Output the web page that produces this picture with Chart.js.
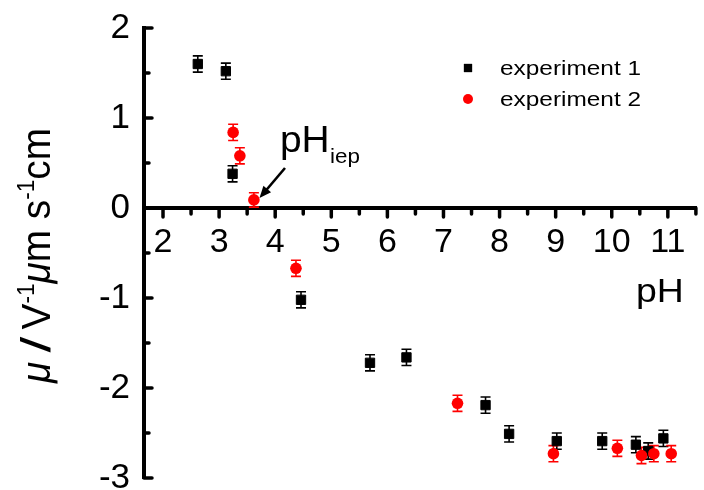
<!DOCTYPE html>
<html>
<head>
<meta charset="utf-8">
<script src="https://cdn.jsdelivr.net/npm/chart.js@4.4.1/dist/chart.umd.min.js"></script>
<style>
  html, body { margin: 0; padding: 0; background: #fff; }
  #wrap { width: 704px; height: 490px; }
</style>
</head>
<body>
<div id="wrap"><canvas id="mobility" width="704" height="490"></canvas></div>
<script>
// electrophoretic mobility vs pH, two runs
const exp1Label = "experiment 1";
const exp1X = [2.62, 3.12, 3.24, 4.46, 5.69, 6.34, 7.75, 8.17, 9.02, 9.83, 10.43, 10.65, 10.92];
const exp1Y = [1.60, 1.52, 0.38, -1.02, -1.72, -1.66, -2.19, -2.51, -2.59, -2.59, -2.63, -2.70, -2.56];
const exp1Err = [0.09, 0.09, 0.09, 0.09, 0.09, 0.09, 0.09, 0.09, 0.09, 0.09, 0.09, 0.09, 0.09];

const exp2Label = "experiment 2";
const exp2X = [3.25, 3.37, 3.62, 4.37, 7.25, 8.96, 10.10, 10.53, 10.75, 11.06];
const exp2Y = [0.84, 0.58, 0.09, -0.67, -2.17, -2.73, -2.67, -2.75, -2.73, -2.73];
const exp2Err = [0.09, 0.09, 0.08, 0.09, 0.09, 0.09, 0.09, 0.09, 0.09, 0.09];

const xTickValues = [2, 2.5, 3, 3.5, 4, 4.5, 5, 5.5, 6, 6.5, 7, 7.5, 8, 8.5, 9, 9.5, 10, 10.5, 11, 11.5];
const yTickValues = [-3, -2.5, -2, -1.5, -1, -0.5, 0, 0.5, 1, 1.5, 2];

const FONT = '"Liberation Sans", Arial, Helvetica, sans-serif';
const RED = "#ff0000";

const toPoints = (xs, ys) => xs.map((x, i) => ({ x: x, y: ys[i] }));

// draw a row of text pieces (sub/superscripts, mixed styles) from the current origin
function runsWidth(ctx, runs) {
  let w = 0;
  runs.forEach((r) => {
    ctx.font = r.font;
    w += ctx.measureText(r.text).width;
  });
  return w;
}
function drawRuns(ctx, runs) {
  let x = 0;
  runs.forEach((r) => {
    ctx.font = r.font;
    ctx.fillText(r.text, x, r.dy || 0);
    x += ctx.measureText(r.text).width;
  });
}

// error bars + small/large tick marks, drawn under the markers
const underlay = {
  id: "underlay",
  beforeDatasetsDraw(chart) {
    const { ctx, scales } = chart;
    const xs = scales.x;
    const ys = scales.y;
    const y0 = ys.getPixelForValue(0);
    const x0 = chart.chartArea.left;

    ctx.save();
    ctx.strokeStyle = "#000";
    ctx.lineCap = "round";
    ctx.lineWidth = 3.5;
    xs.ticks.forEach((t) => {
      const px = xs.getPixelForValue(t.value);
      const len = Number.isInteger(t.value) ? 9 : 6;
      ctx.beginPath();
      ctx.moveTo(px, y0);
      ctx.lineTo(px, y0 + len);
      ctx.stroke();
    });
    ys.ticks.forEach((t) => {
      const py = ys.getPixelForValue(t.value);
      const len = Number.isInteger(t.value) ? 8 : 5;
      ctx.beginPath();
      ctx.moveTo(x0, py);
      ctx.lineTo(x0 + len, py);
      ctx.stroke();
    });
    ctx.restore();

    const errs = [exp1Err, exp2Err];
    chart.data.datasets.forEach((ds, i) => {
      ctx.save();
      ctx.strokeStyle = ds.borderColor;
      ctx.lineWidth = 1.6;
      ds.data.forEach((p, j) => {
        const px = xs.getPixelForValue(p.x);
        const top = ys.getPixelForValue(p.y + errs[i][j]);
        const bot = ys.getPixelForValue(p.y - errs[i][j]);
        ctx.beginPath();
        ctx.moveTo(px, top);
        ctx.lineTo(px, bot);
        ctx.moveTo(px - 5, top);
        ctx.lineTo(px + 5, top);
        ctx.moveTo(px - 5, bot);
        ctx.lineTo(px + 5, bot);
        ctx.stroke();
      });
      ctx.restore();
    });
  },
};

const annotations = {
  id: "annotations",
  afterDraw(chart) {
    const { ctx, scales } = chart;
    ctx.save();
    ctx.fillStyle = "#000";
    ctx.strokeStyle = "#000";
    ctx.textBaseline = "alphabetic";
    ctx.textAlign = "left";

    // y axis title, rotated
    const titleRuns = [
      { text: "\u03bc", font: "italic 36px " + FONT },
      { text: " ", font: "36px " + FONT },
      { text: "/", font: "italic bold 36px " + FONT },
      { text: " V", font: "36px " + FONT },
      { text: "-1", font: "21px " + FONT, dy: -14 },
      { text: "\u03bc", font: "italic 36px " + FONT },
      { text: "m s", font: "36px " + FONT },
      { text: "-1", font: "21px " + FONT, dy: -14 },
      { text: "cm", font: "36px " + FONT },
    ];
    const tw = runsWidth(ctx, titleRuns);
    ctx.save();
    ctx.translate(50, 383);
    ctx.rotate(-Math.PI / 2);
    ctx.scale(255 / tw, 1.12);
    drawRuns(ctx, titleRuns);
    ctx.restore();

    // x axis title
    ctx.save();
    ctx.translate(636, 302);
    ctx.scale(1.1, 1);
    drawRuns(ctx, [{ text: "pH", font: "34px " + FONT }]);
    ctx.restore();

    // isoelectric point label and arrow
    ctx.save();
    ctx.translate(280, 152);
    ctx.scale(1.08, 1);
    drawRuns(ctx, [{ text: "pH", font: "36px " + FONT }]);
    ctx.restore();
    ctx.save();
    ctx.translate(330, 163);
    ctx.scale(1.12, 1);
    drawRuns(ctx, [{ text: "iep", font: "20px " + FONT }]);
    ctx.restore();

    const tipX = scales.x.getPixelForValue(3.72);
    const tipY = scales.y.getPixelForValue(0.11);
    const fromX = 285, fromY = 168;
    const ang = Math.atan2(tipY - fromY, tipX - fromX);
    const head = 12;
    ctx.lineWidth = 2.6;
    ctx.beginPath();
    ctx.moveTo(fromX, fromY);
    ctx.lineTo(tipX - Math.cos(ang) * head * 0.8, tipY - Math.sin(ang) * head * 0.8);
    ctx.stroke();
    ctx.beginPath();
    ctx.moveTo(tipX, tipY);
    ctx.lineTo(tipX - head * Math.cos(ang) + 5 * Math.sin(ang), tipY - head * Math.sin(ang) - 5 * Math.cos(ang));
    ctx.lineTo(tipX - head * Math.cos(ang) - 5 * Math.sin(ang), tipY - head * Math.sin(ang) + 5 * Math.cos(ang));
    ctx.closePath();
    ctx.fill();

    // legend
    chart.data.datasets.forEach((ds, i) => {
      const my = 68 + i * 31;
      ctx.fillStyle = ds.backgroundColor;
      ctx.strokeStyle = ds.borderColor;
      Chart.helpers.drawPoint(ctx, {
        pointStyle: ds.pointStyle,
        radius: ds.pointStyle === "rect" ? 5.9 : 5,
        rotation: 0,
        borderWidth: 0,
      }, 468, my);
      ctx.fillStyle = "#000";
      ctx.save();
      ctx.translate(500, my + 7);
      ctx.scale(1.22, 1);
      drawRuns(ctx, [{ text: ds.label, font: "20px " + FONT }]);
      ctx.restore();
    });
    ctx.restore();
  },
};

new Chart(document.getElementById("mobility"), {
  type: "scatter",
  data: {
    datasets: [
      {
        label: exp1Label,
        data: toPoints(exp1X, exp1Y),
        pointStyle: "rect",
        pointRadius: 6.6,
        borderWidth: 1,
        backgroundColor: "#000",
        borderColor: "#000",
        order: 2,
      },
      {
        label: exp2Label,
        data: toPoints(exp2X, exp2Y),
        pointStyle: "circle",
        pointRadius: 5.8,
        borderWidth: 0,
        backgroundColor: RED,
        borderColor: RED,
        order: 1,
      },
    ],
  },
  options: {
    responsive: false,
    animation: false,
    events: [],
    layout: { padding: { left: 0, top: 28, right: 0, bottom: 12 } },
    plugins: { legend: { display: false }, tooltip: { enabled: false } },
    scales: {
      x: {
        type: "linear",
        min: 1.661,
        max: 11.509,
        position: { y: 0 },
        grid: { display: false, drawTicks: false },
        border: { display: true, width: 4, color: "#000" },
        afterBuildTicks: (scale) => {
          scale.ticks = xTickValues.map((v) => ({ value: v }));
        },
        afterFit: (scale) => {
          scale.paddingLeft = 0;
          scale.paddingRight = 0;
        },
        ticks: {
          autoSkip: false,
          maxRotation: 0,
          padding: 14,
          color: "#000",
          font: { family: FONT, size: 34 },
          callback: (v) => (Number.isInteger(v) ? String(v) : ""),
        },
      },
      y: {
        type: "linear",
        min: -3,
        max: 2,
        position: "left",
        grid: { display: false, drawTicks: false },
        border: { display: true, width: 4, color: "#000" },
        afterBuildTicks: (scale) => {
          scale.ticks = yTickValues.map((v) => ({ value: v }));
        },
        afterFit: (scale) => {
          scale.width = 144;
          scale.paddingTop = 0;
          scale.paddingBottom = 0;
        },
        ticks: {
          autoSkip: false,
          padding: 14,
          color: "#000",
          font: { family: FONT, size: 35 },
          callback: (v) => (Number.isInteger(v) ? String(v) : ""),
        },
      },
    },
  },
  plugins: [underlay, annotations],
});
</script>
</body>
</html>
